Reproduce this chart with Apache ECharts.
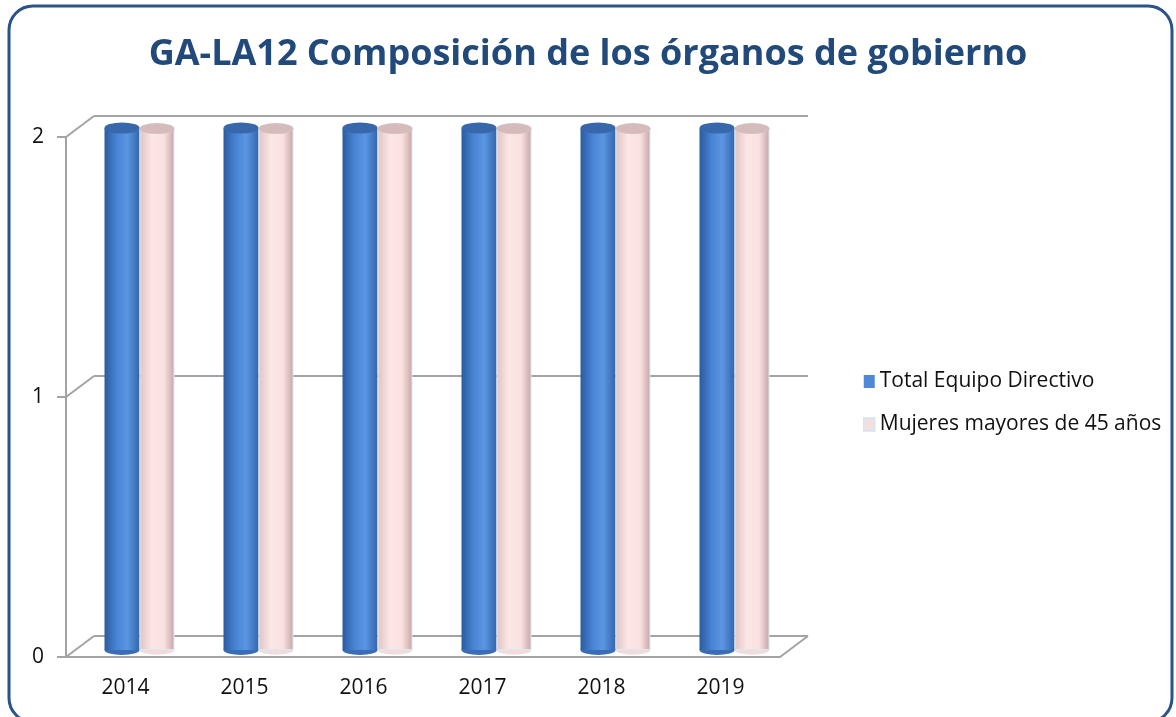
<!DOCTYPE html>
<html>
<head>
<meta charset="utf-8">
<script src="https://cdn.jsdelivr.net/npm/echarts@6/dist/echarts.min.js"></script>
<style>
  html, body { margin: 0; padding: 0; background: #fff; }
  #chart { width: 1176px; height: 717px; }
</style>
</head>
<body>
<div id="chart"></div>
<script>
// datos del gráfico
const years = ['2014', '2015', '2016', '2017', '2018', '2019']
const totalEquipo = [2, 2, 2, 2, 2, 2]
const mujeres45 = [2, 2, 2, 2, 2, 2]
const yTicks = [0, 1, 2]

const FONT = '"Open Sans", sans-serif'
const GRAY = '#a3a3a3'
// profundidad de la pared trasera
const DX = 28
const DY = 21

const front = {left: 66, top: 137, width: 714, height: 520}
const back = {left: front.left + DX, top: front.top - DY, width: 714, height: 520}
const mid = {left: front.left + 14, top: 128, width: 714, height: 522}

const chart = echarts.init(document.getElementById('chart'))

const blueBody = new echarts.graphic.LinearGradient(0, 0, 1, 0, [
  {offset: 0, color: '#2b5c9f'},
  {offset: 0.35, color: '#4884d4'},
  {offset: 0.65, color: '#5a96e2'},
  {offset: 1, color: '#3366ad'}
])
const pinkBody = new echarts.graphic.LinearGradient(0, 0, 1, 0, [
  {offset: 0, color: '#e0c2c2'},
  {offset: 0.35, color: '#fde6e6'},
  {offset: 0.7, color: '#fbe1e1'},
  {offset: 1, color: '#c6a5a5'}
])

const gridBox = g => ({
  left: g.left, top: g.top, width: g.width, height: g.height, containLabel: false
})

const option = {
  animation: false,
  backgroundColor: '#fff',
  title: {
    text: 'GA-LA12 Composición de los órganos de gobierno',
    left: 'center',
    top: 32,
    textStyle: {fontFamily: FONT, fontWeight: 'bold', fontSize: 36, color: '#21497a'}
  },
  graphic: [{
    type: 'rect',
    shape: {x: 9, y: 6, width: 1163, height: 716, r: 24},
    style: {fill: 'none', stroke: '#2a5387', lineWidth: 3},
    silent: true
  }],
  legend: {
    orient: 'vertical',
    left: 858,
    top: 366,
    itemWidth: 11,
    itemHeight: 13,
    itemGap: 22,
    textStyle: {fontFamily: FONT, fontSize: 21, color: '#111'},
    data: [
      {name: 'Total Equipo Directivo', icon: 'rect', itemStyle: {color: '#4f88d6', borderWidth: 0}},
      {name: 'Mujeres mayores de 45 años', icon: 'rect', itemStyle: {color: '#f5dede', borderColor: '#cfe6f3', borderWidth: 1.5}}
    ]
  },
  grid: [gridBox(front), gridBox(back), gridBox(mid)],
  xAxis: [
    {
      gridIndex: 0, type: 'category', data: years,
      axisLine: {lineStyle: {color: GRAY, width: 2}},
      axisTick: {length: 7, lineStyle: {color: GRAY, width: 2}},
      axisLabel: {fontFamily: FONT, fontSize: 21, color: '#111', margin: 21}
    },
    {gridIndex: 1, type: 'category', data: years, show: false},
    {gridIndex: 2, type: 'category', data: years, show: false}
  ],
  yAxis: [
    {
      gridIndex: 0, type: 'value', min: 0, max: 2, interval: 1,
      axisLine: {show: true, lineStyle: {color: GRAY, width: 2}},
      axisTick: {show: true, length: 9, lineStyle: {color: GRAY, width: 2}},
      axisLabel: {fontFamily: FONT, fontSize: 21, color: '#111', margin: 22},
      splitLine: {show: false}
    },
    {
      gridIndex: 1, type: 'value', min: 0, max: 2, interval: 1,
      axisLine: {show: false}, axisTick: {show: false}, axisLabel: {show: false},
      splitLine: {lineStyle: {color: GRAY, width: 2}}
    },
    {gridIndex: 2, type: 'value', min: 0, max: 2, show: false, splitLine: {show: false}}
  ],
  series: [
    {
      // diagonales de profundidad
      type: 'custom',
      xAxisIndex: 0, yAxisIndex: 0,
      z: 1, silent: true,
      data: yTicks.map(v => [0, v]),
      renderItem(params, api) {
        const cs = params.coordSys
        const y = api.coord([0, api.value(1)])[1]
        const style = {stroke: GRAY, lineWidth: 2}
        const kids = [{
          type: 'line',
          shape: {x1: cs.x, y1: y, x2: cs.x + DX, y2: y - DY},
          style
        }]
        if (api.value(1) === 0) {
          kids.push({
            type: 'line',
            shape: {x1: cs.x + cs.width, y1: y, x2: cs.x + cs.width + DX, y2: y - DY},
            style
          })
        }
        return {type: 'group', children: kids}
      }
    },
    {
      name: 'Total Equipo Directivo',
      type: 'bar', xAxisIndex: 2, yAxisIndex: 2,
      data: totalEquipo, barWidth: 35, barGap: '0%', z: 3,
      itemStyle: {color: blueBody}
    },
    {
      name: 'Mujeres mayores de 45 años',
      type: 'bar', xAxisIndex: 2, yAxisIndex: 2,
      data: mujeres45, barWidth: 35, barGap: '0%', z: 3,
      itemStyle: {color: pinkBody, borderColor: '#d6ecf5', borderWidth: 1}
    },
    // bases elípticas
    {
      name: 'base1', type: 'pictorialBar', xAxisIndex: 2, yAxisIndex: 2,
      data: totalEquipo, symbol: 'circle', symbolSize: [35, 10],
      symbolPosition: 'start', symbolOffset: ['-50%', '50%'], z: 2,
      itemStyle: {color: '#3a6db3'}
    },
    {
      name: 'base2', type: 'pictorialBar', xAxisIndex: 2, yAxisIndex: 2,
      data: mujeres45, symbol: 'circle', symbolSize: [35, 10],
      symbolPosition: 'start', symbolOffset: ['50%', '50%'], z: 2,
      itemStyle: {color: '#f1dcdc', borderColor: '#d6ecf5', borderWidth: 1}
    },
    // tapas elípticas
    {
      name: 'top1', type: 'pictorialBar', xAxisIndex: 2, yAxisIndex: 2,
      data: totalEquipo, symbol: 'circle', symbolSize: [35, 11],
      symbolPosition: 'end', symbolOffset: ['-50%', '-50%'], z: 4,
      itemStyle: {color: '#3768ab'}
    },
    {
      name: 'top2', type: 'pictorialBar', xAxisIndex: 2, yAxisIndex: 2,
      data: mujeres45, symbol: 'circle', symbolSize: [35, 11],
      symbolPosition: 'end', symbolOffset: ['50%', '-50%'], z: 4,
      itemStyle: {color: '#d6bbbb', borderColor: '#d3ecf6', borderWidth: 2}
    }
  ]
}

chart.setOption(option)
window.addEventListener('resize', () => chart.resize())
</script>
</body>
</html>
